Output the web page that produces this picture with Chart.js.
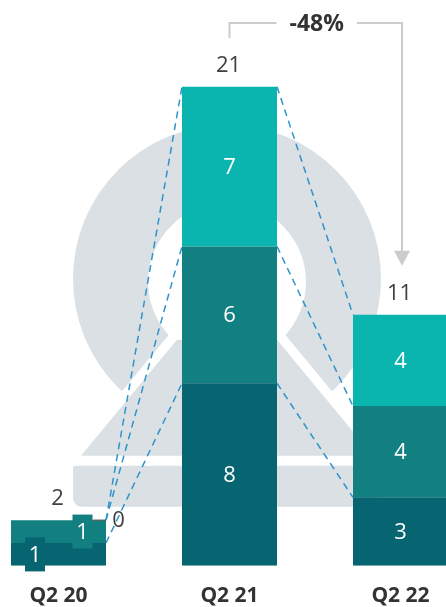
<!DOCTYPE html>
<html>
<head>
<meta charset="utf-8">
<script src="https://cdn.jsdelivr.net/npm/chart.js@4.4.1/dist/chart.umd.min.js"></script>
<style>
    html, body { margin: 0; padding: 0; background: #ffffff; overflow: hidden; width: 446px; height: 607px; }
    #wrap { position: absolute; left: -27px; top: 0; width: 513px; height: 627px; }
</style>
</head>
<body>
<div id="wrap"><canvas id="chart" width="513" height="627"></canvas></div>
<script>
        // Data
        const categories = ['Q2 20', 'Q2 21', 'Q2 22'];
        const bottomValues = [1, 8, 3];
        const middleValues = [1, 6, 4];
        const topValues = [0, 7, 4];
        const totals = [2, 21, 11];

        const segmentColors = ['#066570', '#127f80', '#0ab5b0'];
        const textGray = '#404040';
        const markGray = '#dae0e4';
        const FONT = '"Open Sans", "Noto Sans", sans-serif';

        // Watermark, dashed connectors and the -48% bracket
        const decorPlugin = {
            id: 'decor',
            beforeDatasetsDraw(chart) {
                const ctx = chart.ctx;
                const x = chart.scales.x;
                const y = chart.scales.y;
                const base = y.getPixelForValue(0);
                const cx = x.getPixelForValue(1) - 2.5;
                ctx.save();

                // ring
                ctx.fillStyle = markGray;
                ctx.beginPath();
                ctx.arc(cx, base - 287, 154, 0, Math.PI * 2);
                ctx.arc(cx, base - 284, 79, 0, Math.PI * 2, true);
                ctx.fill('evenodd');

                // trapezoid with white gap around it
                const trap = () => {
                    ctx.beginPath();
                    ctx.moveTo(cx - 50, base - 226);
                    ctx.lineTo(cx + 50, base - 226);
                    ctx.lineTo(cx + 146, base - 110);
                    ctx.lineTo(cx - 146, base - 110);
                    ctx.closePath();
                };
                trap();
                ctx.fillStyle = '#ffffff';
                ctx.strokeStyle = '#ffffff';
                ctx.lineWidth = 19;
                ctx.lineJoin = 'miter';
                ctx.fill();
                ctx.stroke();
                trap();
                ctx.fillStyle = markGray;
                ctx.fill();

                // band
                ctx.beginPath();
                ctx.roundRect(cx - 154, base - 100, 308, 41, [2, 2, 9, 9]);
                ctx.fill();

                // dashed connectors between stacks
                const metas = [0, 1, 2].map(d => chart.getDatasetMeta(d));
                ctx.strokeStyle = '#2f93cc';
                ctx.lineWidth = 1.5;
                ctx.setLineDash([7, 5]);
                for (let i = 0; i < categories.length - 1; i++) {
                    metas.forEach(meta => {
                        const a = meta.data[i];
                        const b = meta.data[i + 1];
                        ctx.beginPath();
                        ctx.moveTo(a.x + a.width / 2, a.y);
                        ctx.lineTo(b.x - b.width / 2, b.y);
                        ctx.stroke();
                    });
                }
                ctx.setLineDash([]);

                // bracket with change label
                const top = chart.chartArea.top;
                const x1 = x.getPixelForValue(1);
                const x2 = x.getPixelForValue(2) + 1.5;
                const lineY = top + 23;
                const mid = (x1 + x2) / 2 + 1;
                const change = Math.round((totals[2] - totals[1]) / totals[1] * 100);
                const label = (change > 0 ? '+' : '') + change + '%';
                ctx.font = 'bold 23px ' + FONT;
                const half = ctx.measureText(label).width / 2 + 13;
                ctx.strokeStyle = '#cccccc';
                ctx.lineWidth = 2;
                ctx.beginPath();
                ctx.moveTo(x1, top + 38);
                ctx.lineTo(x1, lineY);
                ctx.lineTo(mid - half, lineY);
                ctx.moveTo(mid + half, lineY);
                ctx.lineTo(x2, lineY);
                ctx.lineTo(x2, y.getPixelForValue(totals[2]) - 58);
                ctx.stroke();
                const tipY = y.getPixelForValue(totals[2]) - 49;
                ctx.fillStyle = '#cccccc';
                ctx.beginPath();
                ctx.moveTo(x2 - 8, tipY - 15);
                ctx.lineTo(x2 + 8, tipY - 15);
                ctx.lineTo(x2, tipY);
                ctx.closePath();
                ctx.fill();
                ctx.fillStyle = '#333333';
                ctx.textAlign = 'center';
                ctx.textBaseline = 'middle';
                ctx.fillText(label, mid, lineY + 1);
                ctx.restore();
            },
            afterDatasetsDraw(chart) {
                const ctx = chart.ctx;
                const y = chart.scales.y;
                ctx.save();
                ctx.font = '22px ' + FONT;
                ctx.textAlign = 'center';
                ctx.textBaseline = 'middle';

                [0, 1, 2].forEach(d => {
                    const meta = chart.getDatasetMeta(d);
                    const values = chart.data.datasets[d].data;
                    meta.data.forEach((bar, i) => {
                        const v = values[i];
                        const h = Math.abs(bar.base - bar.y);
                        const my = (bar.y + bar.base) / 2;
                        if (v === 0) {
                            // zero segment: label to the right with a small leader
                            const right = bar.x + bar.width / 2;
                            ctx.strokeStyle = '#555555';
                            ctx.lineWidth = 1.2;
                            ctx.beginPath();
                            ctx.moveTo(right - 13, bar.y);
                            ctx.lineTo(right, bar.y);
                            ctx.stroke();
                            ctx.fillStyle = textGray;
                            ctx.fillText(String(v), right + 12.5, bar.y + 1);
                            return;
                        }
                        let lx = bar.x;
                        if (h < 30) {
                            // small segments: shifted label on its own box
                            lx = bar.x + (d === 0 ? -23.5 : 24);
                            ctx.fillStyle = segmentColors[d];
                            ctx.fillRect(lx - 10, my - 17, 20, 34);
                        }
                        ctx.fillStyle = '#ffffff';
                        ctx.fillText(String(v), lx, my + 1);
                    });
                });

                // totals above each stack
                const xs = chart.scales.x;
                ctx.fillStyle = textGray;
                totals.forEach((t, i) => {
                    ctx.fillText(String(t), xs.getPixelForValue(i) - 1, y.getPixelForValue(t) - 21);
                });
                ctx.restore();
            }
        };

        const ctx = document.getElementById('chart').getContext('2d');
        const chart = new Chart(ctx, {
            type: 'bar',
            data: {
                labels: categories,
                datasets: [{
                    data: bottomValues,
                    backgroundColor: segmentColors[0]
                }, {
                    data: middleValues,
                    backgroundColor: segmentColors[1]
                }, {
                    data: topValues,
                    backgroundColor: segmentColors[2]
                }]
            },
            options: {
                responsive: false,
                animation: false,
                devicePixelRatio: 1,
                categoryPercentage: 1,
                barPercentage: 0.5556,
                layout: { padding: 0 },
                plugins: {
                    legend: { display: false },
                    tooltip: { enabled: false }
                },
                scales: {
                    x: {
                        stacked: true,
                        grid: { display: false, drawTicks: false },
                        border: { display: false },
                        ticks: {
                            color: '#333333',
                            padding: 18,
                            font: { family: FONT, size: 21, weight: 'bold' }
                        }
                    },
                    y: {
                        stacked: true,
                        display: false,
                        min: 0,
                        max: 24.8
                    }
                }
            },
            plugins: [decorPlugin]
        });
</script>
</body>
</html>
